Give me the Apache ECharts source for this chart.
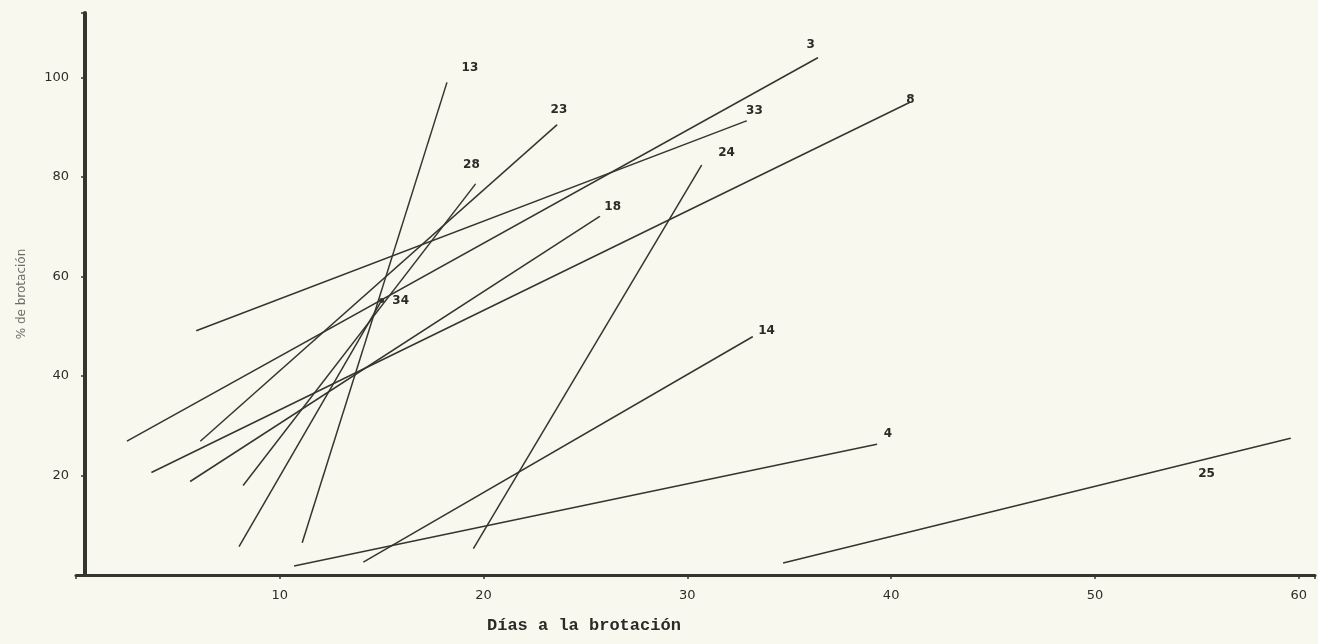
<!DOCTYPE html>
<html>
<head>
<meta charset="utf-8">
<script src="https://cdn.jsdelivr.net/npm/echarts@6/dist/echarts.min.js"></script>
<style>
  html, body { margin: 0; padding: 0; background: #f8f8ef; }
  #chart { width: 1318px; height: 644px; }
</style>
</head>
<body>
<div id="chart"></div>
<script>
// Line identifiers (labels drawn at the upper end of each line)
const lineNames = ['3', '33', '8', '23', '18', '28', '34', '13', '24', '14', '4', '25'];
// Start point (días, % brotación)
const xStart = [2.5, 5.9, 3.7, 6.1, 5.6, 8.2, 8.0, 11.1, 19.5, 14.1, 10.7, 34.7];
const yStart = [26.9, 49.1, 20.6, 26.9, 18.8, 18.0, 5.7, 6.5, 5.3, 2.6, 1.8, 2.4];
// End point (días, % brotación)
const xEnd = [36.4, 32.9, 40.9, 23.6, 25.7, 19.6, 15.0, 18.2, 30.7, 33.2, 39.3, 59.6];
const yEnd = [104.0, 91.3, 95.0, 90.5, 72.1, 78.6, 55.2, 99.0, 82.4, 47.9, 26.3, 27.5];
// Axis tick values
const xTicks = [10, 20, 30, 40, 50, 60];
const yTicks = [20, 40, 60, 80, 100];

// Label placement (pixels, relative to the end point) - layout only
const labelOffsets = {
  '3': [-7, -13], '33': [8, -10], '8': [1, -3], '23': [2, -15], '18': [13, -10],
  '28': [-4, -19], '34': [19, 0], '13': [23, -15], '24': [25, -12], '14': [14, -6],
  '4': [11, -10], '25': [-84, 36]
};

const ink = '#33362f';
const series = lineNames.map((name, i) => ({
  name: name,
  type: 'line',
  silent: true,
  symbol: 'circle',
  showSymbol: true,
  lineStyle: { color: ink, width: 1.5 },
  itemStyle: { color: ink },
  data: [
    { value: [xStart[i], yStart[i]], symbol: 'none', label: { show: false } },
    {
      value: [xEnd[i], yEnd[i]],
      symbolSize: name === '34' ? 5 : 1,
      label: {
        show: true,
        position: 'inside',
        offset: labelOffsets[name],
        formatter: name,
        color: '#2a2a26',
        fontFamily: 'DejaVu Sans',
        fontWeight: 'bold',
        fontSize: 12
      }
    }
  ]
}));

const chart = echarts.init(document.getElementById('chart'), null, { renderer: 'canvas' });
chart.setOption({
  animation: false,
  backgroundColor: '#f8f8ef',
  title: {
    text: 'Días a la brotación',
    left: 487,
    top: 617,
    padding: 0,
    textStyle: {
      fontFamily: 'Liberation Mono',
      fontWeight: 'bold',
      fontSize: 17,
      color: '#2a2a26'
    }
  },
  grid: { left: 76, right: 3, top: 13, bottom: 69, containLabel: false },
  xAxis: {
    type: 'value',
    min: 0,
    max: 60.8,
    interval: 10,
    splitLine: { show: false },
    axisLine: { show: true, lineStyle: { color: ink, width: 3 } },
    axisTick: { show: true, inside: false, length: 4, lineStyle: { color: ink, width: 1.5 } },
    axisLabel: {
      margin: 14,
      fontFamily: 'DejaVu Sans',
      fontSize: 13,
      color: '#2d2d29',
      formatter: v => (xTicks.indexOf(v) >= 0 ? String(v) : '')
    }
  },
  yAxis: {
    type: 'value',
    min: 0,
    max: 113,
    interval: 20,
    offset: -9,
    name: '% de brotación',
    nameLocation: 'middle',
    nameRotate: 90,
    nameGap: 57,
    nameTextStyle: {
      fontFamily: 'DejaVu Sans',
      fontSize: 12,
      color: '#6c6e66'
    },
    splitLine: { show: false },
    axisLine: { show: true, lineStyle: { color: ink, width: 4 } },
    axisTick: { show: true, length: 4, lineStyle: { color: ink, width: 1.5 } },
    axisLabel: {
      margin: 16,
      fontFamily: 'DejaVu Sans',
      fontSize: 13,
      color: '#2d2d29',
      formatter: v => (yTicks.indexOf(v) >= 0 ? String(v) : '')
    }
  },
  series: series
});
</script>
</body>
</html>
